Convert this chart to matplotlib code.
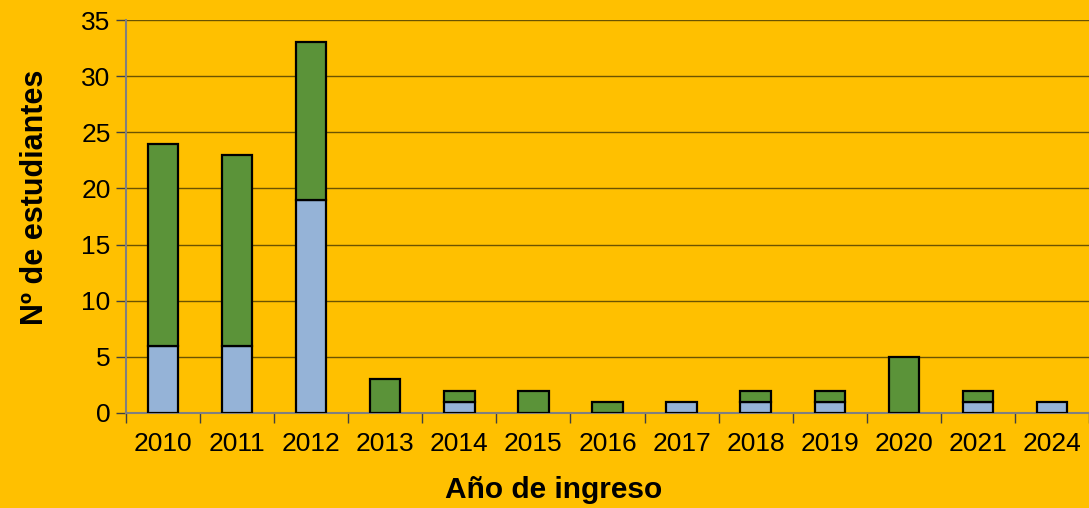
import matplotlib.pyplot as plt
import numpy as np

plt.rcParams['font.family'] = ['Liberation Sans', 'DejaVu Sans']

years = ['2010', '2011', '2012', '2013', '2014', '2015', '2016',
         '2017', '2018', '2019', '2020', '2021', '2024']
blue_vals = [6, 6, 19, 0, 1, 0, 0, 1, 1, 1, 0, 1, 1]
green_vals = [18, 17, 14, 3, 1, 2, 1, 0, 1, 1, 5, 1, 0]

bg = '#FFC000'
fig = plt.figure(figsize=(10.89, 5.08), dpi=100, facecolor=bg)
ax = fig.add_axes([126 / 1089, 1 - 413 / 508, 1 - 126 / 1089, (413 - 20) / 508])
ax.set_facecolor(bg)

x = np.arange(len(years))
w = 0.41
# skip zero-height segments so no flat outlines get drawn
for i in x:
    if blue_vals[i] > 0:
        ax.bar(i, blue_vals[i], w, color='#95B3D7', edgecolor='black', linewidth=1.6, zorder=3)
    if green_vals[i] > 0:
        ax.bar(i, green_vals[i], w, bottom=blue_vals[i], color='#5B9339',
               edgecolor='black', linewidth=1.6, zorder=3)

ax.set_xlim(-0.5, len(years) - 0.5)
ax.set_ylim(0, 35)
ax.set_yticks(range(0, 36, 5))
ax.set_xticks(x)
ax.set_xticklabels(years)
ax.set_xticks(np.arange(-0.5, len(years), 1), minor=True)
ax.tick_params(axis='x', which='major', length=0, pad=14, labelsize=19)
ax.tick_params(axis='x', which='minor', length=7, width=1, color='#404040', direction='out')
ax.tick_params(axis='y', length=7, width=1, color='#404040', labelsize=19, pad=4)

ax.grid(axis='y', color='#6B5300', linewidth=1, zorder=0)
for s in ['top', 'right']:
    ax.spines[s].set_visible(False)
ax.spines['left'].set_color('#808080')
ax.spines['bottom'].set_color('#808080')
ax.spines['left'].set_linewidth(1.5)
ax.spines['bottom'].set_linewidth(1.5)

ax.set_xlabel('Año de ingreso', fontsize=21.5, fontweight='bold', va='center')
ax.set_ylabel('Nº de estudiantes', fontsize=22, fontweight='bold', va='center')
ax.xaxis.set_label_coords(0.444, -0.196)
ax.yaxis.set_label_coords(-0.0945, 0.55)

fig.savefig('out.png', dpi=100, facecolor=bg)
